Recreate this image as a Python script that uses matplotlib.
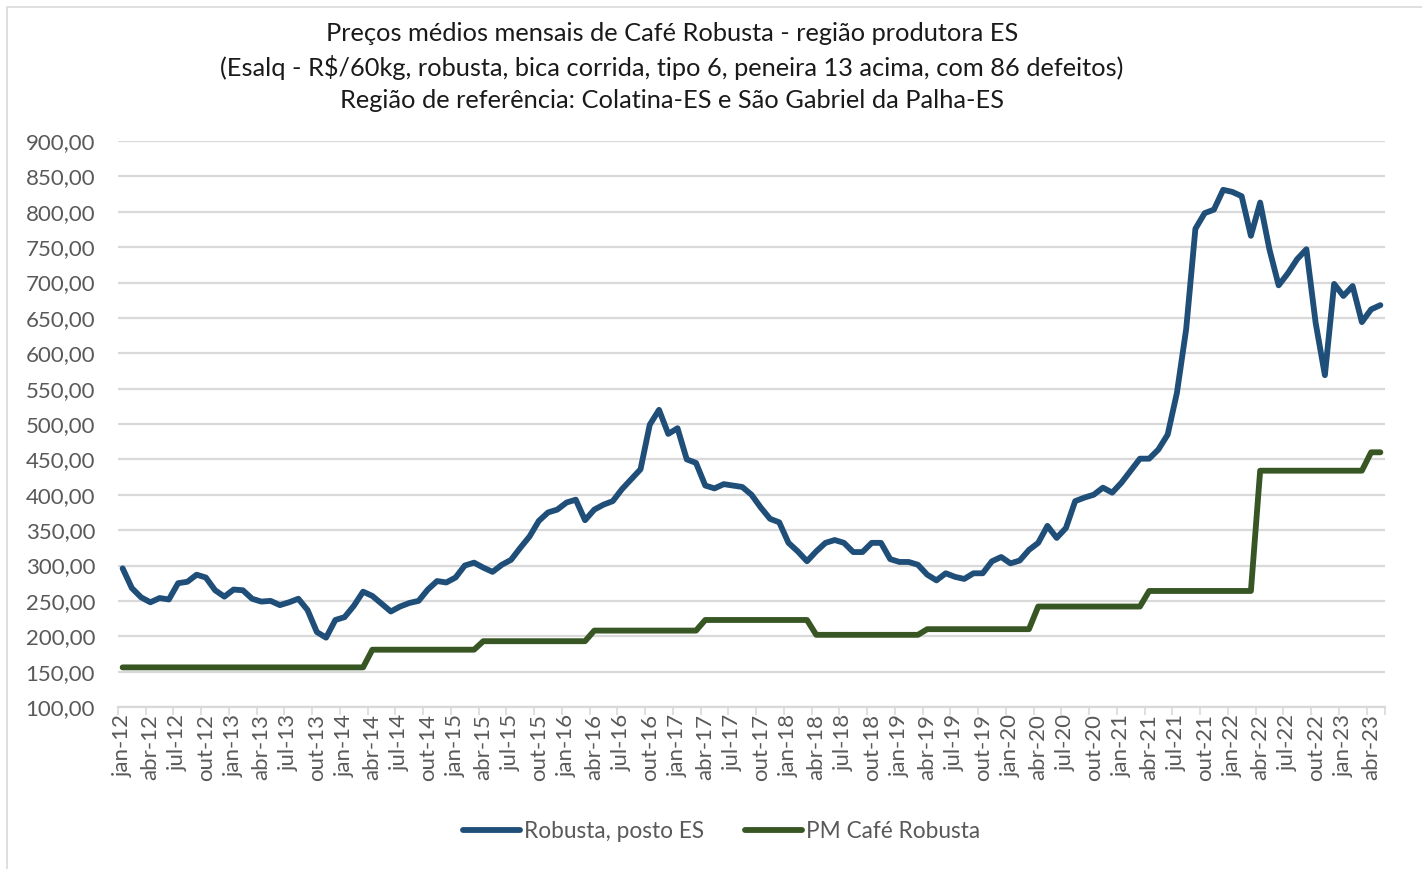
import matplotlib
matplotlib.use("Agg")
import matplotlib.pyplot as plt
from matplotlib.patches import Rectangle

plt.rcParams["font.family"] = ["Lato", "DejaVu Sans"]

# monthly series, jan-12 .. mai-23
robusta_es = [
    296, 268, 255, 248, 254, 252, 275, 277, 287, 283, 265, 256,
    266, 265, 253, 249, 250, 244, 248, 253, 237, 206, 198, 223,
    227, 243, 263, 257, 246, 235, 242, 247, 250, 266, 278, 276,
    283, 300, 304, 297, 291, 301, 308, 325, 341, 363, 375, 379,
    389, 393, 364, 379, 386, 391, 408, 422, 436, 499, 520, 486,
    494, 450, 445, 413, 409, 415, 413, 411, 400, 382, 366, 361,
    332, 320, 306, 320, 332, 336, 332, 319, 319, 332, 332, 309,
    305, 305, 301, 287, 279, 289, 284, 281, 289, 289, 306, 312,
    303, 307, 322, 332, 356, 339, 353, 391, 396, 400, 410, 403,
    417, 434, 451, 451, 464, 485, 544, 634, 776, 798, 803, 831,
    828, 822, 766, 813, 747, 696, 713, 733, 747, 643, 569, 698,
    681, 695, 644, 662, 668,
]
# minimum price (PM), changes every April
pm_years = [2012, 2013, 2014, 2015, 2016, 2017, 2018, 2019, 2020, 2021, 2022, 2023]
pm_april = [156, 156, 181, 193, 208, 223, 202, 210, 242, 264, 434, 460]

month_abbr = ["jan", "fev", "mar", "abr", "mai", "jun",
              "jul", "ago", "set", "out", "nov", "dez"]
months = [f"{month_abbr[i % 12]}-{(12 + i // 12) % 100:02d}" for i in range(len(robusta_es))]

# PM value in force in each month (the April value holds until next March)
pm_series = []
for i in range(len(robusta_es)):
    year = 2012 + i // 12
    m = i % 12
    idx = pm_years.index(year)
    if m < 3 and idx > 0:
        idx -= 1
    pm_series.append(pm_april[idx])

BLUE = "#1f4e79"
GREEN = "#375623"
GRID = "#d9d9d9"
TEXT = "#595959"

fig = plt.figure(figsize=(14.22, 8.69), dpi=100)
ax = fig.add_axes([118 / 1422, 1 - 707 / 869, 1267 / 1422, 566 / 869])

x = list(range(len(robusta_es)))
ax.plot(x, robusta_es, color=BLUE, lw=4.2, solid_capstyle="round",
        solid_joinstyle="round", label="Robusta, posto ES", zorder=3)
ax.plot(x, pm_series, color=GREEN, lw=4.2, solid_capstyle="round",
        solid_joinstyle="round", label="PM Café Robusta", zorder=3)

ax.set_xlim(-0.5, len(robusta_es) - 0.5)
ax.set_ylim(100, 900)
ax.set_yticks(range(100, 901, 50))
ax.set_yticklabels([f"{v},00" for v in range(100, 901, 50)], fontsize=16, color=TEXT)
ax.yaxis.grid(True, color=GRID, lw=1.6)
ax.set_axisbelow(True)

label_pos = x[::3]
ax.set_xticks(label_pos)
ax.set_xticklabels([months[i] for i in label_pos], rotation=90, fontsize=16, color=TEXT)
ax.set_xticks([p - 0.5 for p in label_pos] + [len(x) - 0.5], minor=True)
ax.tick_params(axis="x", which="major", length=0, pad=5)
ax.tick_params(axis="x", which="minor", length=6, color=GRID, width=1.2)
ax.tick_params(axis="y", length=0, pad=16.5)

for side in ["top", "right", "left"]:
    ax.spines[side].set_visible(False)
ax.spines["bottom"].set_color(GRID)
ax.spines["bottom"].set_linewidth(1.6)

title = ("Preços médios mensais de Café Robusta - região produtora ES\n"
         "(Esalq - R$/60kg, robusta, bica corrida, tipo 6, peneira 13 acima, com 86 defeitos)\n"
         "Região de referência: Colatina-ES e São Gabriel da Palha-ES")
fig.text(672 / 1422, 1 - 67 / 869, title, ha="center", va="center",
         fontsize=18.3, color="#1a1a1a", linespacing=1.48)

fig.legend(loc="center", bbox_to_anchor=(722 / 1422, 1 - 831 / 869), ncol=2,
           frameon=False, fontsize=16.3, labelcolor=TEXT, handlelength=2.5,
           handletextpad=0.2, columnspacing=1.8)

# chart border (light grey, runs off the right/bottom edge)
fig.patches.append(Rectangle((7 / 1422, -0.05), 1.1, 1 - 7 / 869 + 0.05,
                             transform=fig.transFigure, fill=False,
                             edgecolor=GRID, lw=1.2))

fig.savefig("out.png", dpi=100)
